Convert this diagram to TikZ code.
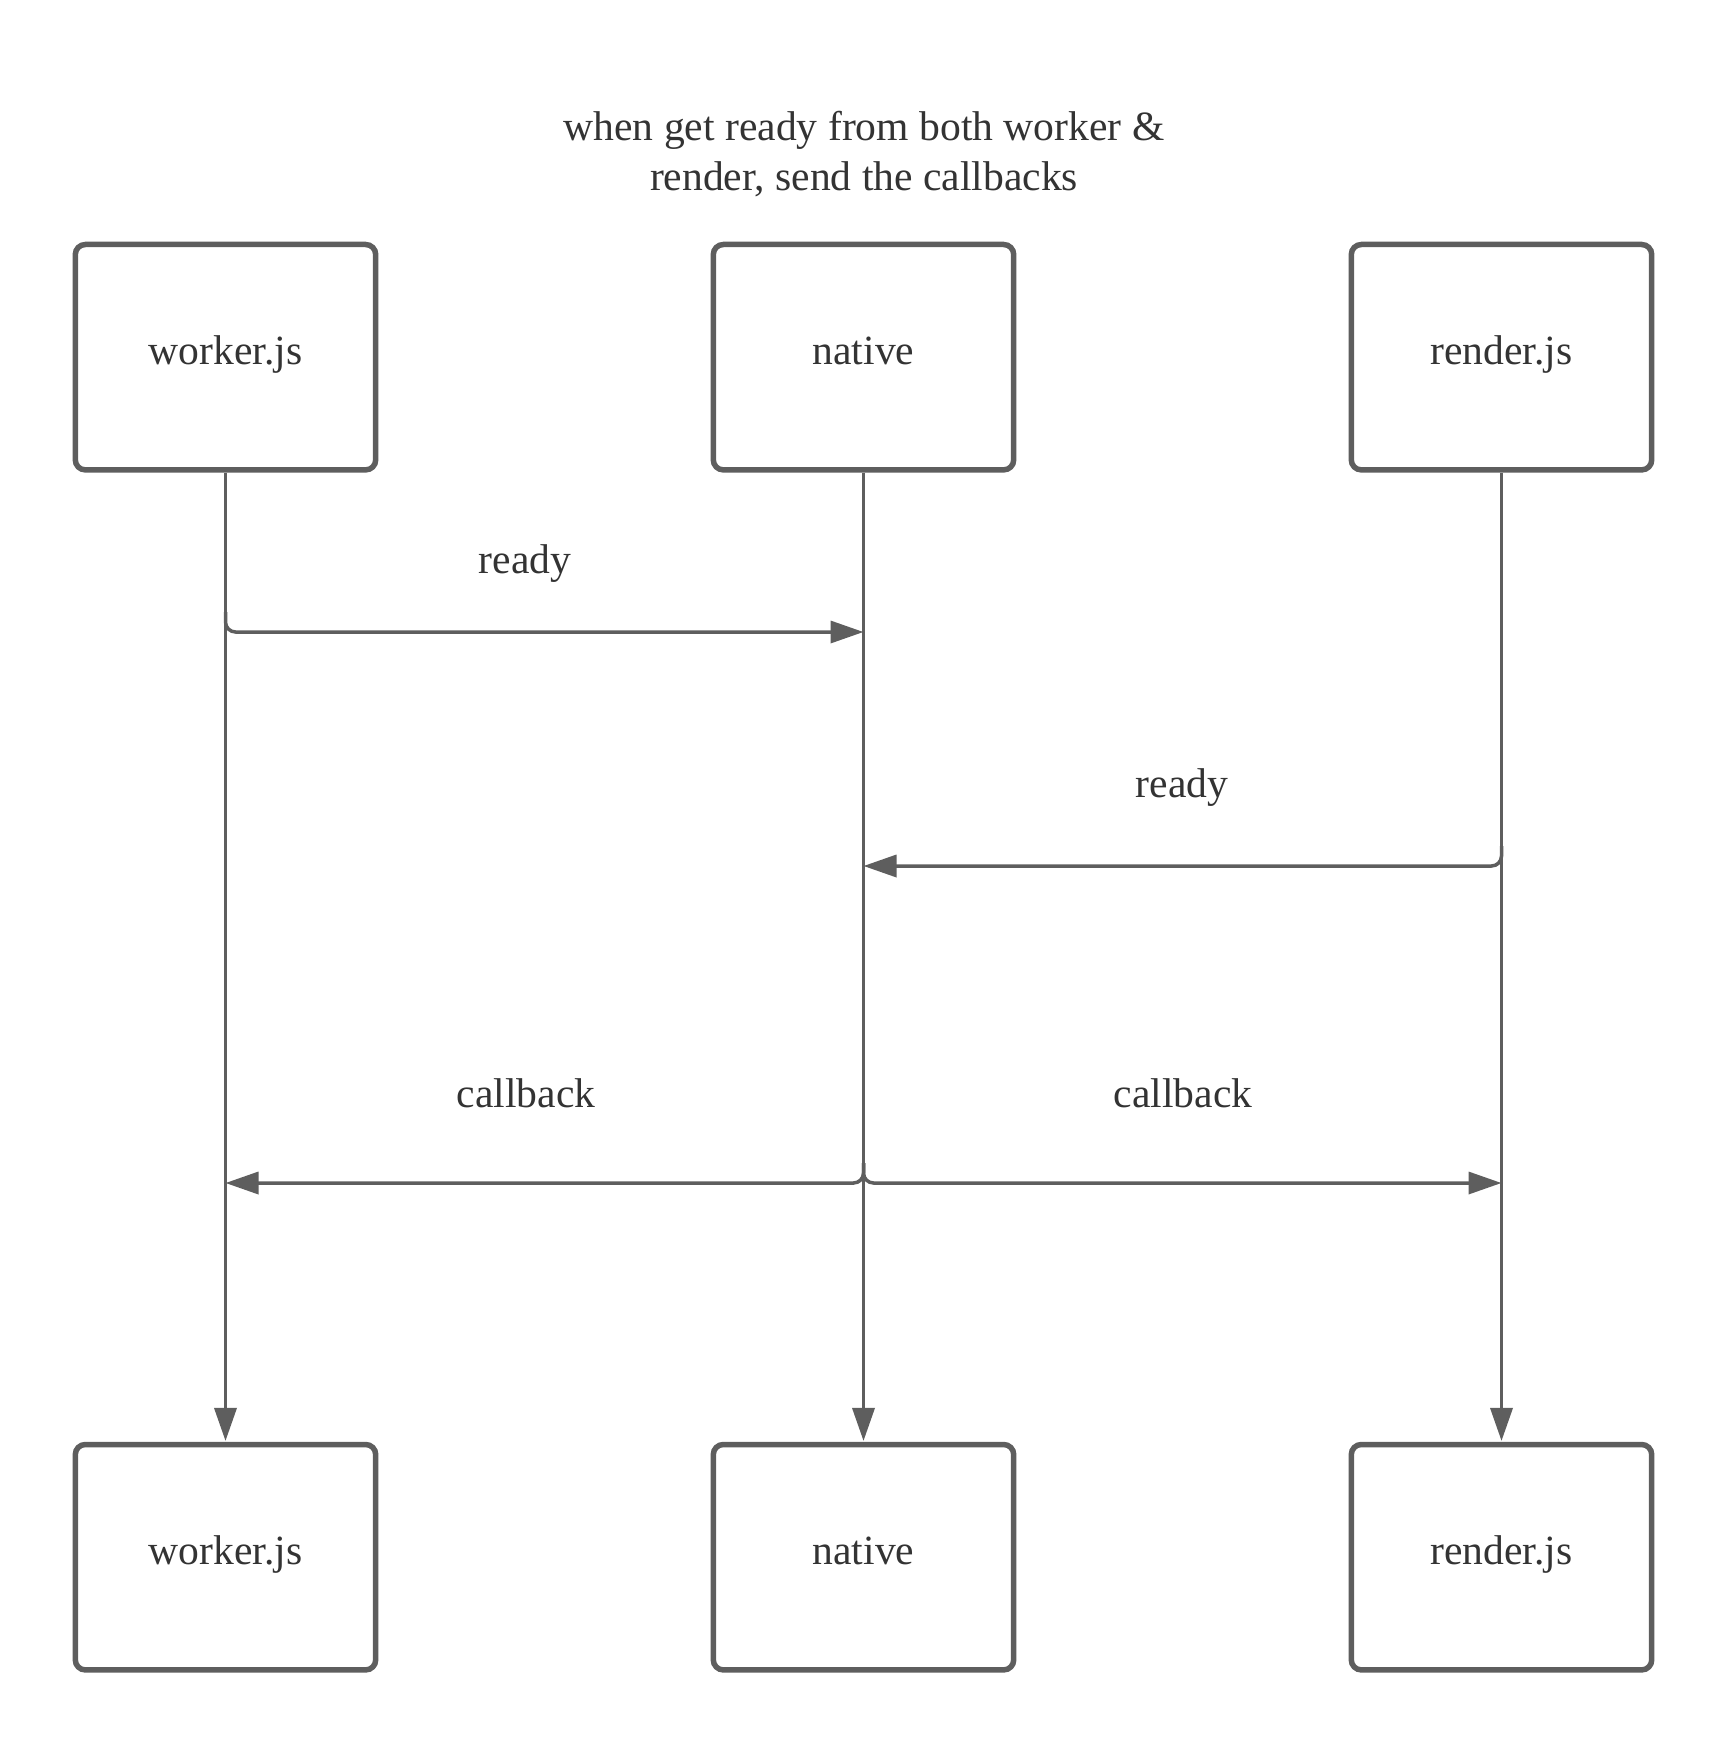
\documentclass[tikz,border=0pt]{standalone}
\usepackage{fontspec}
\setmainfont{Liberation Serif}
\usetikzlibrary{arrows.meta}
\definecolor{lc}{HTML}{5E5E5E}
\definecolor{tc}{HTML}{333333}
\begin{document}
\begin{tikzpicture}[x=0.5pt,y=-0.5pt,
  box/.style={draw=lc,line width=2.75pt,rounded corners=5pt,minimum width=150.2pt,minimum height=112.7pt,inner sep=0pt,font=\fontsize{20.8}{26}\selectfont,text=tc,text height=14.5pt,text depth=7.2pt},
  lbl/.style={font=\fontsize{20.8}{26}\selectfont,text=tc,anchor=base,inner sep=0pt},
  tip/.style={-{Triangle[length=16.5pt,width=11pt]}},
  life/.style={draw=lc,line width=1.75pt,tip,shorten >=0.4pt},
  msg/.style={draw=lc,line width=1.75pt,rounded corners=5pt,tip}]
\useasboundingbox (0,0) rectangle (1725,1744);
% title
\node[font=\fontsize{20.8}{25}\selectfont,text=tc,align=center,inner sep=0pt] (title) at (864,154.5) {when get ready from both worker \&\\render, send the callbacks};
% boxes
\node[box] (w1) at (225.5,357.2) {worker.js};
\node[box] (n1) at (863.5,357.2) {native};
\node[box] (r1) at (1501.5,357.2) {render.js};
\node[box] (w2) at (225.5,1557.2) {worker.js};
\node[box] (n2) at (863.5,1557.2) {native};
\node[box] (r2) at (1501.5,1557.2) {render.js};
% lifelines
\draw[life] (w1.south) -- (w2.north);
\draw[life] (n1.south) -- (n2.north);
\draw[life] (r1.south) -- (r2.north);
% message levels
\coordinate (ya) at (0,632);
\coordinate (yb) at (0,866);
\coordinate (yc) at (0,1183);
\path (w1.south |- ya) ++(0,-20) coordinate (a0);
\path (r1.south |- yb) ++(0,-20) coordinate (b0);
\path (n1.south |- yc) ++(0,-20) coordinate (c0);
\draw[msg] (a0) |- (n1.south |- ya);
\draw[msg] (b0) |- (n1.south |- yb);
\draw[msg] (c0) |- (w1.south |- yc);
\draw[msg] (c0) |- (r1.south |- yc);
% labels
\node[lbl] (la) at (525,573) {ready};
\node[lbl] (lb) at (1182,797) {ready};
\node[lbl] (lc1) at (526,1107) {callback};
\node[lbl] (lc2) at (1183,1107) {callback};
\end{tikzpicture}
\end{document}
